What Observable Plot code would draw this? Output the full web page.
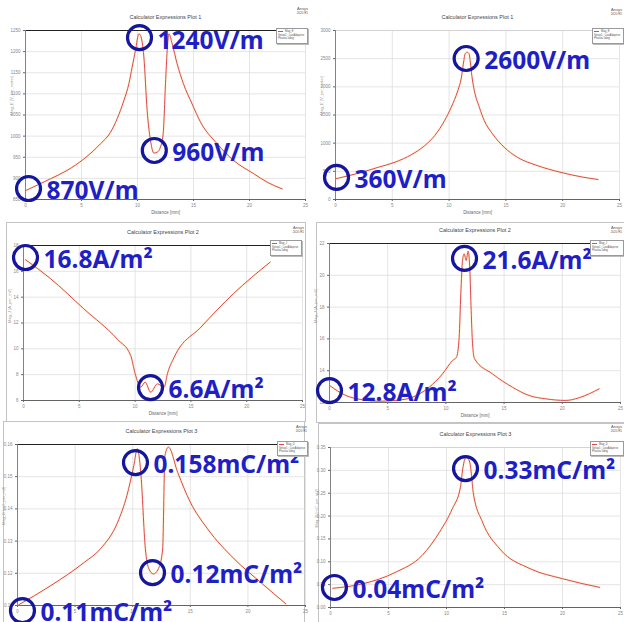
<!DOCTYPE html>
<html><head><meta charset="utf-8">
<script src="https://cdn.jsdelivr.net/npm/d3@7"></script>
<script src="https://cdn.jsdelivr.net/npm/@observablehq/plot@0.6"></script>
<style>
body{margin:0;background:#fff;}
#wrap{position:relative;width:624px;height:622px;overflow:hidden;background:#fff;font-family:"Liberation Sans",Arial,sans-serif;}
.panel{position:absolute;}
.panel svg{overflow:visible;}
.win{position:absolute;border:1px solid #c4c4c4;box-sizing:border-box;}
.legend{position:absolute;border:1px solid #9a9a9a;background:#fff;box-sizing:border-box;font-size:2.7px;line-height:3.6px;color:#555;padding:1px 1px;white-space:nowrap;overflow:hidden;box-shadow:1px 1px 0 #bbb;}
.legend .sw{display:inline-block;width:5px;height:0;border-top:1px solid #e0474c;vertical-align:middle;margin-right:2px;}
.logo{position:absolute;font-size:4px;line-height:4.2px;color:#555;text-align:right;}
</style>
</head><body>
<div id="wrap"></div>
<script>
// ---------- data ----------
const xTicks = [0, 5, 10, 15, 20, 25];

// Plot 1 (left): Mag_E [V/m]
const p1Dist = [0, 2.23, 3.72, 5.21, 6.7, 7.59, 8.18, 8.78, 9.23, 9.52, 9.82, 10.12, 10.27, 10.57, 10.86, 11.16, 11.46, 11.76, 12.05, 12.29, 12.5, 12.65, 12.8, 13.1, 13.54, 14.1, 14.88, 15.63, 17.11, 18.6, 20.38, 21.58, 22.92];
const p1E    = [871, 899, 919, 946, 982, 1009, 1041, 1084, 1124, 1163, 1203, 1242, 1238, 1187, 1061, 990, 960, 962, 974, 1005, 1124, 1203, 1242, 1218, 1171, 1124, 1076, 1033, 982, 942, 911, 891, 875];
const p1YTicks = [850, 900, 950, 1000, 1050, 1100, 1150, 1200, 1250];
const p1NoteLabel = ["1240V/m", "960V/m", "870V/m"];
const p1NoteX = [10.18, 11.5, 0.27];
const p1NoteY = [1233, 966, 876];

// Plot 1 (right): Mag_E [V/m]
const p2Dist = [0, 2.35, 3.8, 5.25, 6.71, 7.87, 8.74, 9.61, 10.19, 10.77, 11.06, 11.3, 11.41, 11.59, 11.76, 11.87, 12.0, 12.22, 12.66, 13.09, 13.82, 14.84, 16.0, 17.74, 19.77, 21.8, 23.11];
const p2E    = [367, 485, 574, 663, 799, 959, 1136, 1403, 1639, 1935, 2142, 2468, 2586, 2615, 2586, 2438, 2201, 1935, 1639, 1403, 1166, 929, 751, 604, 485, 396, 355];
const p2YTicks = [0, 500, 1000, 1500, 2000, 2500, 3000];
const p2NoteLabel = ["2600V/m", "360V/m"];
const p2NoteX = [11.5, 0.09];
const p2NoteY = [2503, 391];

// Plot 2 (left): Mag_J [A/m^2]
const p3Dist = [0.18, 2.4, 5.4, 8.4, 9.6, 10.0, 10.5, 10.9, 11.4, 12.0, 12.6, 12.9, 13.5, 15.9, 18.8, 22.1];
const p3J    = [16.9, 15.45, 13.1, 10.75, 9.5, 8.09, 7.03, 7.42, 6.64, 7.29, 7.03, 8.09, 9.35, 11.68, 14.26, 16.71];
const p3YTicks = [6, 8, 10, 12, 14, 16, 18];
const p3NoteLabel = ["16.8A/m²", "6.6A/m²"];
const p3NoteX = [0.18, 11.38];
const p3NoteY = [17.07, 7.0];

// Plot 2 (right): Mag_J [A/m^2]
const p4Dist = [0, 1.41, 2.84, 4.27, 5.7, 7.13, 8.56, 9.71, 10.57, 10.91, 11.14, 11.28, 11.43, 11.57, 11.74, 11.91, 12.06, 12.17, 12.29, 12.46, 14.0, 15.72, 17.15, 18.58, 20.3, 21.45, 23.17];
const p4J    = [13.07, 12.44, 12.17, 12.08, 12.13, 12.33, 12.96, 13.8, 14.64, 14.85, 16.11, 18.84, 20.93, 21.35, 20.93, 21.52, 20.3, 17.79, 15.69, 14.75, 13.8, 12.96, 12.44, 12.23, 12.13, 12.3, 12.86];
const p4YTicks = [12, 14, 16, 18, 20, 22];
const p4NoteLabel = ["21.6A/m²", "12.8A/m²"];
const p4NoteX = [11.6, 0];
const p4NoteY = [21.06, 12.75];

// Plot 3 (left): Mag_D [mC/m^2]
const p5Dist = [0.1, 2.9, 5.8, 7.2, 8.7, 9.5, 10.1, 10.4, 10.7, 11.1, 11.4, 11.8, 12.3, 12.6, 12.8, 13.1, 13.9, 15.0, 16.5, 18.8, 21.1, 23.3];
const p5D    = [0.1102, 0.1162, 0.1234, 0.1276, 0.1359, 0.1442, 0.1535, 0.1587, 0.1514, 0.1276, 0.1214, 0.1198, 0.1220, 0.1276, 0.1566, 0.1592, 0.1514, 0.1421, 0.1338, 0.1245, 0.1172, 0.1105];
const p5YTicks = [0.11, 0.12, 0.13, 0.14, 0.15, 0.16];
const p5NoteLabel = ["0.158mC/m²", "0.12mC/m²", "0.11mC/m²"];
const p5NoteX = [10.24, 11.72, 0.43];
const p5NoteY = [0.1544, 0.1202, 0.1084];

// Plot 3 (right): Mag_D [mC/m^2]
const p6Dist = [0.2, 2.8, 5.6, 7.9, 9.4, 10.5, 11.2, 11.4, 11.55, 11.75, 12.0, 12.16, 12.3, 13.1, 14.6, 17.2, 20.0, 23.2];
const p6D    = [0.042, 0.052, 0.077, 0.114, 0.165, 0.216, 0.263, 0.303, 0.322, 0.329, 0.318, 0.289, 0.252, 0.187, 0.128, 0.085, 0.063, 0.044];
const p6YTicks = [0, 0.05, 0.1, 0.15, 0.2, 0.25, 0.3, 0.35];
const p6NoteLabel = ["0.33mC/m²", "0.04mC/m²"];
const p6NoteX = [11.64, 0.34];
const p6NoteY = [0.304, 0.0438];

// ---------- drawing ----------
const wrap = document.getElementById("wrap");
const blueText = "#1f1fc6", blueRing = "#16169c", red = "#e0474c";

function addDiv(cls, left, top, w, h, html) {
  const d = document.createElement("div");
  d.className = cls;
  d.style.left = left + "px"; d.style.top = top + "px";
  if (w != null) d.style.width = w + "px";
  if (h != null) d.style.height = h + "px";
  if (html) d.innerHTML = html;
  wrap.appendChild(d);
  return d;
}

function panel(cfg) {
  const rows = cfg.x.map((d, i) => ({x: d, y: cfg.y[i]}));
  const notes = cfg.noteLabel.map((l, i) => ({label: l, x: cfg.noteX[i], y: cfg.noteY[i]}));
  const yd = [cfg.yTicks[0], cfg.yTicks[cfg.yTicks.length - 1]];
  const marks = [
    Plot.gridX({ticks: xTicks, stroke: "#dadada", strokeOpacity: 1, strokeWidth: 0.7}),
    Plot.gridY({ticks: cfg.yTicks, stroke: "#dadada", strokeOpacity: 1, strokeWidth: 0.7}),
    Plot.ruleY([yd[1]], {stroke: cfg.topDark ? "#222" : "#cfcfcf", strokeWidth: cfg.topDark ? 1 : 0.8}),
    Plot.ruleY([yd[0]], {stroke: "#555", strokeWidth: 0.9}),
    Plot.ruleX([0], {stroke: "#777", strokeWidth: 0.9}),
    Plot.axisX({ticks: xTicks, tickSize: 2, tickPadding: 2, fontSize: 4.5, fill: "#888", stroke: "#666", label: null}),
    Plot.axisY({ticks: cfg.yTicks, tickSize: 2, tickPadding: 3, fontSize: 4.5, fill: "#888", stroke: "#666", label: null, tickFormat: cfg.fmt}),
    Plot.line(rows, {x: "x", y: "y", stroke: "#f3e070", strokeWidth: 2.4, strokeOpacity: 0.25, curve: "monotone-x"}),
    Plot.line(rows, {x: "x", y: "y", stroke: red, strokeWidth: 1, curve: "monotone-x"}),
    Plot.text([cfg.title], {frameAnchor: "top", dy: -15, fontSize: 5.5, fill: "#444"}),
    Plot.text([cfg.yLabel], {frameAnchor: "left", rotate: -90, dx: -14, fontSize: 4, fill: "#999"})
  ];
  if (cfg.xLabel) marks.push(Plot.text([cfg.xLabel], {frameAnchor: "bottom", dy: 14, fontSize: 4.5, fill: "#666"}));
  marks.push(
    Plot.dot(notes, {x: "x", y: "y", r: 12, stroke: blueRing, strokeWidth: 3.2, fill: "none"}),
    Plot.text(notes, {x: "x", y: "y", text: "label", dx: 18, dy: 3, textAnchor: "start", fontSize: 24.5, fontWeight: "bold", fill: blueText, fontFamily: "Noto Sans, Open Sans, sans-serif"})
  );
  const chart = Plot.plot({
    width: cfg.width, height: cfg.height,
    marginLeft: cfg.m[0], marginRight: cfg.m[1], marginTop: cfg.m[2], marginBottom: cfg.m[3],
    style: {background: "transparent", overflow: "visible", fontFamily: "Liberation Sans, Arial, sans-serif"},
    x: {domain: [0, 25]},
    y: {domain: yd},
    marks
  });
  const holder = addDiv("panel", cfg.left, cfg.top, cfg.width, cfg.height);
  holder.appendChild(chart);
}

// window frames
addDiv("win", 6, 222, 300, 200);
addDiv("win", 316, 222, 320, 201);
addDiv("win", 3, 421, 302, 210);
addDiv("win", 318, 423, 320, 210);

const fmtInt = d3.format("d");
const fmt1 = d3.format(".0f");
const fmt2 = d3.format(".2f");

panel({left: 0, top: 0, width: 312, height: 220, m: [25, 7, 30, 21],
  x: p1Dist, y: p1E, yTicks: p1YTicks, fmt: fmtInt, topDark: true, xLabel: "Distance [mm]",
  title: "Calculator Expressions Plot 1", yLabel: "Mag_E [V_per_meter]",
  noteLabel: p1NoteLabel, noteX: p1NoteX, noteY: p1NoteY});
panel({left: 312, top: 0, width: 312, height: 220, m: [23, 5, 30, 21],
  x: p2Dist, y: p2E, yTicks: p2YTicks, fmt: fmtInt, topDark: false, xLabel: "Distance [mm]",
  title: "Calculator Expressions Plot 1", yLabel: "Mag_E [V_per_meter]",
  noteLabel: p2NoteLabel, noteX: p2NoteX, noteY: p2NoteY});
panel({left: 0, top: 220, width: 312, height: 200, m: [23, 10, 25, 20],
  x: p3Dist, y: p3J, yTicks: p3YTicks, fmt: fmt1, topDark: true, xLabel: "Distance [mm]",
  title: "Calculator Expressions Plot 2", yLabel: "Mag_J [A_per_m2]",
  noteLabel: p3NoteLabel, noteX: p3NoteX, noteY: p3NoteY});
panel({left: 312, top: 220, width: 312, height: 200, m: [17, 4, 23, 18],
  x: p4Dist, y: p4J, yTicks: p4YTicks, fmt: fmt1, topDark: true, xLabel: "Distance [mm]",
  title: "Calculator Expressions Plot 2", yLabel: "Mag_J [A_per_m2]",
  noteLabel: p4NoteLabel, noteX: p4NoteX, noteY: p4NoteY});
panel({left: 0, top: 420, width: 312, height: 202, m: [17, 7, 24, 17],
  x: p5Dist, y: p5D, yTicks: p5YTicks, fmt: fmt2, topDark: true, xLabel: null,
  title: "Calculator Expressions Plot 3", yLabel: "Mag_D [mC_per_m2]",
  noteLabel: p5NoteLabel, noteX: p5NoteX, noteY: p5NoteY});
panel({left: 312, top: 420, width: 312, height: 202, m: [18, 4, 27, 15],
  x: p6Dist, y: p6D, yTicks: p6YTicks, fmt: fmt2, topDark: false, xLabel: null,
  title: "Calculator Expressions Plot 3", yLabel: "Mag_D [mC_per_m2]",
  noteLabel: p6NoteLabel, noteX: p6NoteX, noteY: p6NoteY});

// legends & logos
const legendHtml = n => `<span class="sw"></span>Mag_${n}<br>Setup1 : LastAdaptive<br>Phase='0deg'`;
addDiv("legend", 276, 28, 32, 16, legendHtml("E"));
addDiv("legend", 592, 28, 32, 16, legendHtml("E"));
addDiv("legend", 270, 240, 32, 16, legendHtml("J"));
addDiv("legend", 590, 240, 34, 16, legendHtml("J"));
addDiv("legend", 277, 441, 31, 15, legendHtml("D"));
addDiv("legend", 590, 441, 34, 15, legendHtml("D"));
const logoHtml = "Ansys<br><span style='font-size:3px'>2020 R1</span>";
addDiv("logo", 288, 7, 20, 9, logoHtml);
addDiv("logo", 598, 8, 24, 9, logoHtml);
addDiv("logo", 284, 226, 20, 9, logoHtml);
addDiv("logo", 598, 226, 24, 9, logoHtml);
addDiv("logo", 287, 425, 20, 9, logoHtml);
addDiv("logo", 598, 425, 24, 9, logoHtml);
</script>
</body></html>
